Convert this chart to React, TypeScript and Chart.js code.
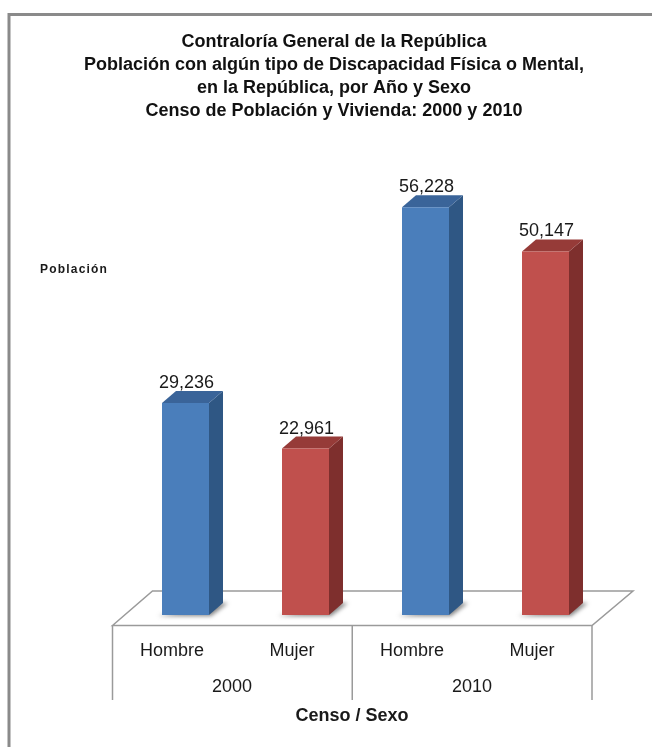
import React, { useEffect, useRef } from "react";
import { Chart, registerables } from "chart.js";

Chart.register(...registerables);

const categories = ["Hombre", "Mujer", "Hombre", "Mujer"];
const years = ["2000", "2010"];
const population = [29236, 22961, 56228, 50147];
const frontColors = ["#4A7EBB", "#C0504D", "#4A7EBB", "#C0504D"];
const sideColors = ["#2F5784", "#7E2F2D", "#2F5784", "#7E2F2D"];
const topColors = ["#3A6499", "#963B38", "#3A6499", "#963B38"];
const titleLines = [
  "Contraloría General de la República",
  "Población con algún tipo de Discapacidad Física o Mental,",
  "en la República, por Año y Sexo",
  "Censo de Población y Vivienda: 2000 y 2010",
];
const yLabel = "Población";
const xLabel = "Censo / Sexo";

const DX = 14;
const DY = 12;
const AXIS_SHIFT = 13.5;

const look3d = {
  id: "look3d",
  beforeDraw(chart: any) {
    const { ctx, width, height } = chart;
    ctx.save();
    ctx.fillStyle = "#ffffff";
    ctx.fillRect(0, 0, width, height);
    ctx.strokeStyle = "#8a8a8a";
    ctx.lineWidth = 3;
    ctx.beginPath();
    ctx.moveTo(9, height);
    ctx.lineTo(9, 14.5);
    ctx.lineTo(width, 14.5);
    ctx.stroke();
    ctx.restore();
  },
  beforeDatasetsDraw(chart: any) {
    const { ctx, chartArea } = chart;
    const base = chart.scales.y.getPixelForValue(0);
    const l = chartArea.left - AXIS_SHIFT + 0.5;
    const r = chartArea.right - AXIS_SHIFT;
    const front = base + 10.5;
    const back = base - 24;
    ctx.save();
    ctx.strokeStyle = "#9a9a9a";
    ctx.lineWidth = 1.5;
    ctx.beginPath();
    ctx.moveTo(l, front);
    ctx.lineTo(l + 40, back);
    ctx.lineTo(r + 41, back);
    ctx.lineTo(r, front);
    ctx.closePath();
    ctx.stroke();
    ctx.beginPath();
    [l, (l + r) / 2, r].forEach((x) => {
      ctx.moveTo(x, front);
      ctx.lineTo(x, front + 74.5);
    });
    ctx.stroke();
    const meta = chart.getDatasetMeta(0);
    meta.data.forEach((bar: any, i: number) => {
      const half = bar.width / 2;
      const x0 = bar.x - half;
      const x1 = bar.x + half;
      // soft shadow on the floor
      ctx.save();
      ctx.filter = "blur(2px)";
      ctx.fillStyle = "rgba(80,80,80,0.7)";
      ctx.beginPath();
      ctx.moveTo(x0 - 4, base + 1);
      ctx.lineTo(x1 + 2, base + 1);
      ctx.lineTo(x1 + DX + 5, base - DY);
      ctx.lineTo(x1 + DX - 2, base - DY);
      ctx.closePath();
      ctx.fill();
      ctx.restore();
      // side face
      ctx.fillStyle = sideColors[i];
      ctx.beginPath();
      ctx.moveTo(x1, bar.y);
      ctx.lineTo(x1 + DX, bar.y - DY);
      ctx.lineTo(x1 + DX, base - DY);
      ctx.lineTo(x1, base);
      ctx.closePath();
      ctx.fill();
      // top face
      ctx.fillStyle = topColors[i];
      ctx.beginPath();
      ctx.moveTo(x0, bar.y);
      ctx.lineTo(x0 + DX, bar.y - DY);
      ctx.lineTo(x1 + DX, bar.y - DY);
      ctx.lineTo(x1, bar.y);
      ctx.closePath();
      ctx.fill();
    });
    ctx.restore();
  },
  afterDatasetsDraw(chart: any) {
    const { ctx, scales } = chart;
    ctx.save();
    ctx.fillStyle = "#1a1a1a";
    ctx.textAlign = "center";
    ctx.textBaseline = "alphabetic";
    ctx.font = '18px "Liberation Sans"';
    chart.getDatasetMeta(0).data.forEach((bar: any, i: number) => {
      ctx.fillText(population[i].toLocaleString("en-US"), bar.x + 1, bar.y - 15);
    });
    ctx.font = 'bold 18px "Liberation Sans"';
    ctx.fillText(xLabel, (scales.x2.left + scales.x2.right) / 2 - AXIS_SHIFT, scales.x2.bottom - 26);
    ctx.font = 'bold 12px "Liberation Sans"';
    ctx.letterSpacing = "1.2px";
    ctx.textAlign = "left";
    ctx.textBaseline = "middle";
    ctx.fillText(yLabel, 40, 270);
    ctx.restore();
  },
};

const hiddenY = (width: number) => ({
  grid: { display: false },
  border: { display: false },
  ticks: { display: false },
  afterFit: (s: any) => {
    s.width = width;
  },
});

export default function App() {
  const ref = useRef<HTMLCanvasElement>(null);
  useEffect(() => {
    const chart = new Chart(ref.current as HTMLCanvasElement, {
      type: "bar",
      data: {
        labels: categories,
        datasets: [
          {
            data: population,
            backgroundColor: frontColors,
            barPercentage: 47 / 120,
            categoryPercentage: 1,
          },
        ],
      },
      plugins: [look3d],
      options: {
        animation: false,
        responsive: false,
        layout: { padding: { left: 16, right: 0, top: 0, bottom: 0 } },
        plugins: {
          legend: { display: false },
          tooltip: { enabled: false },
          title: {
            display: true,
            text: titleLines,
            color: "#111111",
            font: { family: '"Liberation Sans"', size: 18, weight: "bold", lineHeight: 23 / 18 },
            padding: { top: 31, bottom: 57 },
          },
        },
        scales: {
          y: { min: 0, max: 60000, position: "left", ...hiddenY(109.5) },
          y2: { axis: "y", type: "linear", position: "right", ...hiddenY(46.5) },
          x: {
            offset: true,
            grid: { display: false },
            border: { display: false },
            afterFit: (s: any) => {
              s.height = 50;
            },
            ticks: {
              autoSkip: false,
              maxRotation: 0,
              padding: 17,
              labelOffset: -AXIS_SHIFT,
              color: "#1a1a1a",
              font: { family: '"Liberation Sans"', size: 18 },
            },
          },
          x2: {
            type: "category",
            labels: years,
            position: "bottom",
            offset: true,
            grid: { display: false },
            border: { display: false },
            afterFit: (s: any) => {
              s.height = 82;
            },
            ticks: {
              autoSkip: false,
              maxRotation: 0,
              padding: 3,
              labelOffset: -AXIS_SHIFT,
              color: "#1a1a1a",
              font: { family: '"Liberation Sans"', size: 18 },
            },
          },
        },
      } as any,
    });
    return () => chart.destroy();
  }, []);
  return (
    <div style={{ position: "absolute", left: 0, top: 0, width: 652, height: 747 }}>
      <canvas ref={ref} width={652} height={747} style={{ display: "block" }} />
    </div>
  );
}
